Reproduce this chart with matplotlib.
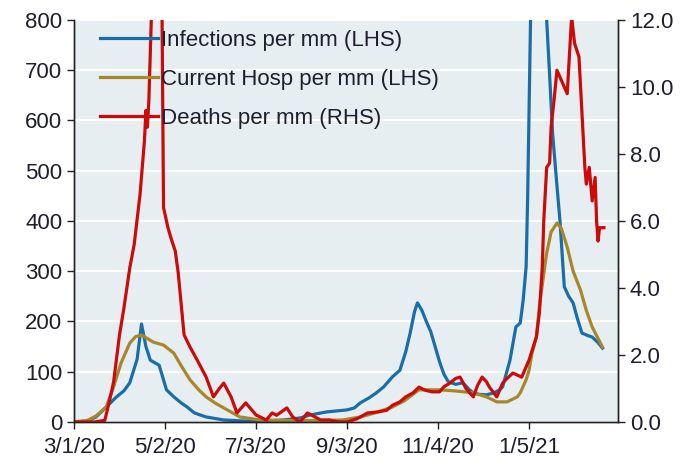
import numpy as np
import pandas as pd
import matplotlib
matplotlib.use("Agg")
import matplotlib.pyplot as plt
import matplotlib.dates as mdates
from matplotlib.ticker import FuncFormatter

plt.rcParams['font.family'] = ['Liberation Sans', 'DejaVu Sans']

# infections per million (LHS)
inf_dates = ["2020-03-01", "2020-03-10", "2020-03-16", "2020-03-23", "2020-03-30", "2020-04-04",
             "2020-04-08", "2020-04-13", "2020-04-16", "2020-04-19", "2020-04-22", "2020-04-25",
             "2020-04-28", "2020-05-03", "2020-05-08", "2020-05-13", "2020-05-17", "2020-05-22",
             "2020-05-30", "2020-06-11", "2020-06-25", "2020-07-10", "2020-07-22", "2020-08-02",
             "2020-08-09", "2020-08-20", "2020-08-27", "2020-09-03", "2020-09-08", "2020-09-12",
             "2020-09-18", "2020-09-23", "2020-09-28", "2020-10-04", "2020-10-09", "2020-10-13",
             "2020-10-16", "2020-10-19", "2020-10-21", "2020-10-24", "2020-10-27", "2020-10-30",
             "2020-11-02", "2020-11-05", "2020-11-08", "2020-11-11", "2020-11-16", "2020-11-21",
             "2020-11-25", "2020-11-28", "2020-12-02", "2020-12-07", "2020-12-12", "2020-12-16",
             "2020-12-18", "2020-12-23", "2020-12-27", "2020-12-30", "2021-01-01", "2021-01-03",
             "2021-01-04", "2021-01-06", "2021-01-09", "2021-01-11", "2021-01-14", "2021-01-17",
             "2021-01-19", "2021-01-21", "2021-01-24", "2021-01-26", "2021-01-29", "2021-02-01",
             "2021-02-04", "2021-02-07", "2021-02-10", "2021-02-14", "2021-02-17", "2021-02-21",
             "2021-02-24"]
inf_vals = [0, 2, 10, 30, 50, 62, 78, 125, 195, 150, 123, 118,
            113, 64, 50, 38, 30, 18, 10, 4, 2, 2, 4, 8,
            14, 20, 22, 24, 28, 38, 48, 58, 70, 90, 103, 140,
            177, 220, 237, 222, 200, 180, 150, 120, 95, 80, 75, 78,
            65, 58, 55, 54, 58, 64, 70, 123, 189, 197, 243, 309,
            442, 800, 1000, 1100, 950, 800, 690, 575, 470, 402, 269, 250,
            237, 205, 177, 172, 169, 158, 147]

# current hospitalisations per million (LHS)
hosp_dates = ["2020-03-01", "2020-03-10", "2020-03-16", "2020-03-23", "2020-03-28", "2020-04-02",
              "2020-04-08", "2020-04-12", "2020-04-16", "2020-04-20", "2020-04-24", "2020-05-01",
              "2020-05-08", "2020-05-13", "2020-05-19", "2020-05-25", "2020-05-30", "2020-06-05",
              "2020-06-11", "2020-06-22", "2020-07-06", "2020-07-25", "2020-08-15", "2020-08-31",
              "2020-09-12", "2020-09-22", "2020-10-04", "2020-10-12", "2020-10-22", "2020-11-05",
              "2020-11-15", "2020-11-28", "2020-12-07", "2020-12-14", "2020-12-21", "2020-12-28",
              "2020-12-30", "2021-01-03", "2021-01-05", "2021-01-07", "2021-01-10", "2021-01-12",
              "2021-01-15", "2021-01-17", "2021-01-20", "2021-01-24", "2021-01-27", "2021-01-31",
              "2021-02-04", "2021-02-09", "2021-02-13", "2021-02-17", "2021-02-24"]
hosp_vals = [0, 3, 12, 30, 70, 117, 157, 170, 173, 166, 159, 153,
             137, 112, 84, 64, 50, 38, 28, 10, 4, 3, 3, 4,
             10, 18, 30, 42, 64, 64, 62, 58, 50, 40, 40, 50,
             58, 84, 103, 137, 169, 229, 295, 336, 378, 396, 385, 348,
             300, 263, 222, 189, 149]

# deaths per million (RHS)
death_dates = ["2020-03-01", "2020-03-15", "2020-03-22", "2020-03-25", "2020-03-28", "2020-04-01",
               "2020-04-04", "2020-04-08", "2020-04-11", "2020-04-15", "2020-04-18", "2020-04-19",
               "2020-04-20", "2020-04-21", "2020-04-23", "2020-04-26", "2020-04-29", "2020-04-30",
               "2020-05-01", "2020-05-04", "2020-05-06", "2020-05-09", "2020-05-11", "2020-05-15",
               "2020-05-19", "2020-05-22", "2020-05-25", "2020-05-30", "2020-06-04", "2020-06-08",
               "2020-06-11", "2020-06-16", "2020-06-20", "2020-06-26", "2020-07-03", "2020-07-10",
               "2020-07-14", "2020-07-17", "2020-07-24", "2020-07-28", "2020-08-02", "2020-08-07",
               "2020-08-10", "2020-08-16", "2020-08-22", "2020-08-28", "2020-09-03", "2020-09-10",
               "2020-09-17", "2020-09-24", "2020-09-30", "2020-10-04", "2020-10-09", "2020-10-13",
               "2020-10-18", "2020-10-22", "2020-10-26", "2020-10-31", "2020-11-05", "2020-11-08",
               "2020-11-12", "2020-11-16", "2020-11-19", "2020-11-23", "2020-11-28", "2020-12-01",
               "2020-12-04", "2020-12-07", "2020-12-09", "2020-12-14", "2020-12-18", "2020-12-21",
               "2020-12-25", "2020-12-28", "2020-12-31", "2021-01-05", "2021-01-10", "2021-01-12",
               "2021-01-14", "2021-01-15", "2021-01-17", "2021-01-19", "2021-01-20", "2021-01-22",
               "2021-01-24", "2021-01-28", "2021-01-31", "2021-02-03", "2021-02-05", "2021-02-08",
               "2021-02-12", "2021-02-13", "2021-02-15", "2021-02-17", "2021-02-19", "2021-02-20",
               "2021-02-21", "2021-02-22", "2021-02-25"]
death_vals = [0, 0, 0.05, 0.6, 1.2, 2.6,
              3.4, 4.6, 5.3, 6.8, 8.4, 9.3,
              8.8, 9.6, 12.5, 15.0, 13.5, 12.0,
              6.4, 5.8, 5.5, 5.1, 4.45, 2.6,
              2.24, 2.0, 1.76, 1.34, 0.75, 1.0,
              1.16, 0.75, 0.27, 0.57, 0.21, 0.06,
              0.27, 0.2, 0.42, 0.15, 0.0, 0.27,
              0.2, 0.06, 0.06, 0.0, 0.0, 0.1,
              0.27, 0.3, 0.35, 0.5, 0.6, 0.75,
              0.87, 1.04, 0.95, 0.9, 0.9, 1.05,
              1.16, 1.3, 1.34, 1.0, 0.75, 1.1,
              1.34, 1.2, 1.04, 0.75, 1.16, 1.3,
              1.46, 1.4, 1.34, 1.85, 2.54, 3.25,
              4.63, 6.0, 7.6, 7.73, 8.8, 9.6,
              10.5, 10.1, 9.8, 12.1, 11.3, 10.9,
              7.6, 7.1, 7.6, 6.6, 7.3, 6.0,
              5.4, 5.8, 5.8]

tick_dates = ["2020-03-01", "2020-05-02", "2020-07-03", "2020-09-03", "2020-11-04", "2021-01-05"]

blue = '#1a6ea8'
gold = '#a8872b'
red = '#cc0a0a'
txt = '#1e1e2e'

fig = plt.figure(figsize=(6.82, 4.67), dpi=100)
ax = fig.add_axes([0.1085, 0.0964, 0.7977, 0.8608])
ax.set_facecolor('#e6eef2')
ax2 = ax.twinx()

l1, = ax.plot(pd.to_datetime(inf_dates), inf_vals, color=blue, lw=2.3, label='Infections per mm (LHS)')
l2, = ax.plot(pd.to_datetime(hosp_dates), hosp_vals, color=gold, lw=2.3, label='Current Hosp per mm (LHS)')
l3, = ax2.plot(pd.to_datetime(death_dates), death_vals, color=red, lw=2.3, label='Deaths per mm (RHS)')

x0 = pd.Timestamp("2020-03-01")
ax.set_xlim(x0, x0 + pd.Timedelta(days=370.6))
ax.set_ylim(0, 800)
ax2.set_ylim(0, 12)
ax.set_yticks(np.arange(0, 801, 100))
ax2.set_yticks(np.arange(0, 12.1, 2))
ax2.yaxis.set_major_formatter(FuncFormatter(lambda v, p: f"{v:.1f}"))
ax.set_xticks(pd.to_datetime(tick_dates))
ax.xaxis.set_major_formatter(FuncFormatter(
    lambda v, p: (lambda d: f"{d.month}/{d.day}/{d.year % 100}")(mdates.num2date(v))))

ax.grid(axis='y', color='white', lw=1.6)
ax.set_axisbelow(True)
for a in (ax, ax2):
    a.spines['top'].set_visible(False)
    for s in ('left', 'right', 'bottom'):
        a.spines[s].set_color('#222222')
        a.spines[s].set_linewidth(1.0)
ax.tick_params(axis='both', direction='out', length=5, width=1, labelsize=16, labelcolor=txt, color='#222222')
ax2.tick_params(axis='y', direction='out', length=5, width=1, labelsize=16, labelcolor=txt, color='#222222')
ax.tick_params(axis='x', pad=6)

leg = ax2.legend(handles=[l1, l2, l3], loc='upper left', bbox_to_anchor=(0.048, 0.975),
                 frameon=False, fontsize=16, borderpad=0, borderaxespad=0,
                 handlelength=2.6, handletextpad=0.15, labelspacing=0.8)
for t in leg.get_texts():
    t.set_color(txt)

fig.savefig('out.png', dpi=100)
